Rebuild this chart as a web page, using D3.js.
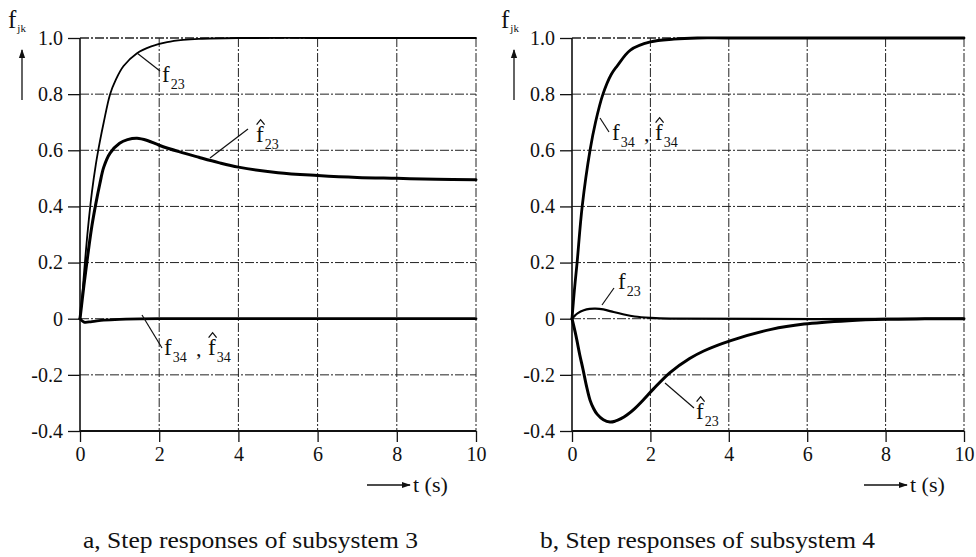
<!DOCTYPE html>
<html>
<head>
<meta charset="utf-8">
<script src="https://cdn.jsdelivr.net/npm/d3@7"></script>
<style>
  html, body { margin: 0; padding: 0; background: #fff; }
</style>
</head>
<body>
<svg id="chart" width="976" height="557"></svg>
<script>
// Axis ticks shared by both panels
const xTicks = [0, 2, 4, 6, 8, 10];
const xTickLabels = ["0", "2", "4", "6", "8", "10"];
const yTicks = [-0.4, -0.2, 0, 0.2, 0.4, 0.6, 0.8, 1.0];
const yTickLabels = ["-0.4", "-0.2", "0", "0.2", "0.4", "0.6", "0.8", "1.0"];

// Panel a: subsystem 3
const a_f23_t = [0, 0.05, 0.1, 0.2, 0.3, 0.4, 0.5, 0.6, 0.76, 0.9, 1.1, 1.44, 1.8, 2.2, 2.6, 3, 4, 6, 8, 10];
const a_f23_v = [0, 0.07, 0.16, 0.32, 0.45, 0.55, 0.63, 0.70, 0.80, 0.85, 0.90, 0.946, 0.97, 0.985, 0.993, 0.997, 1.0, 1.0, 1.0, 1.0];
const a_f23h_t = [0, 0.1, 0.2, 0.3, 0.4, 0.5, 0.6, 0.76, 1.0, 1.2, 1.44, 1.7, 2, 2.5, 3, 3.5, 4, 5, 6, 7, 8, 9, 10];
const a_f23h_v = [0, 0.12, 0.23, 0.33, 0.41, 0.48, 0.54, 0.59, 0.625, 0.638, 0.643, 0.635, 0.618, 0.595, 0.575, 0.556, 0.54, 0.52, 0.51, 0.503, 0.5, 0.497, 0.495];
const a_f34_t = [0, 0.1, 0.3, 0.6, 1, 2, 10];
const a_f34_v = [0, -0.012, -0.01, -0.005, -0.002, 0, 0];

// Panel b: subsystem 4
const b_f34_t = [0, 0.06, 0.13, 0.26, 0.46, 0.6, 0.79, 1.0, 1.15, 1.49, 2, 2.6, 3.2, 4, 10];
const b_f34_v = [0, 0.1, 0.2, 0.4, 0.6, 0.7, 0.8, 0.87, 0.9, 0.957, 0.986, 0.996, 1.0, 1.0, 1.0];
const b_f23_t = [0, 0.08, 0.15, 0.3, 0.45, 0.6, 0.8, 1.0, 1.3, 1.6, 2, 2.5, 10];
const b_f23_v = [0, 0.012, 0.02, 0.03, 0.035, 0.036, 0.033, 0.026, 0.016, 0.008, 0.003, 0, 0];
const b_f23h_t = [0, 0.1, 0.2, 0.28, 0.37, 0.46, 0.55, 0.64, 0.8, 0.97, 1.1, 1.25, 1.4, 1.6, 1.8, 2.08, 2.5, 3, 3.36, 4.05, 5.08, 5.92, 7.05, 8, 9, 10];
const b_f23h_v = [0, -0.06, -0.13, -0.18, -0.24, -0.29, -0.32, -0.34, -0.36, -0.368, -0.365, -0.356, -0.343, -0.32, -0.292, -0.25, -0.192, -0.142, -0.115, -0.078, -0.038, -0.019, -0.007, -0.002, -0.0005, 0];

const captions = ["a, Step responses of subsystem 3", "b, Step responses of subsystem 4"];

const SERIF = '"Liberation Serif", "Times New Roman", Times, Tinos, "Noto Serif", "DejaVu Serif", serif';

const svg = d3.select("#chart");

const defs = svg.append("defs");
defs.append("marker").attr("id", "arrow")
  .attr("viewBox", "0 0 10 10").attr("refX", 9).attr("refY", 5)
  .attr("markerWidth", 7).attr("markerHeight", 7).attr("orient", "auto")
  .append("path").attr("d", "M0,1.5 L10,5 L0,8.5 Z").attr("fill", "#111");

const zip = (t, v) => t.map((d, i) => [d, v[i]]);

function txt(g, x0, y0, fs, s) {
  return g.append("text").attr("x", x0).attr("y", y0).attr("font-size", fs)
    .attr("font-family", SERIF).attr("fill", "#111").text(s);
}

function panel(cfg) {
  const x = d3.scaleLinear().domain([0, 10]).range([cfg.x0, cfg.x1]);
  const y = d3.scaleLinear().domain([-0.4, 1.0]).range([431, 38]);
  const g = svg.append("g");

  // dashed grid
  g.selectAll("line.gx").data(xTicks.filter(d => d > 0)).join("line")
    .attr("x1", d => x(d)).attr("x2", d => x(d)).attr("y1", y(1.0)).attr("y2", y(-0.4))
    .attr("stroke", "#222").attr("stroke-width", 1).attr("stroke-dasharray", "9,2,2,2");
  g.selectAll("line.gy").data(yTicks.filter(d => d > -0.4)).join("line")
    .attr("x1", x(0)).attr("x2", x(10)).attr("y1", d => y(d)).attr("y2", d => y(d))
    .attr("stroke", "#222").attr("stroke-width", d => d === 1.0 ? 1.4 : 1).attr("stroke-dasharray", "9,2,2,2");

  // axes
  const ax = g.append("g").attr("transform", `translate(0,${y(-0.4)})`)
    .call(d3.axisBottom(x).tickValues(xTicks).tickFormat((d, i) => xTickLabels[i]).tickSize(11).tickPadding(5));
  const ay = g.append("g").attr("transform", `translate(${x(0)},0)`)
    .call(d3.axisLeft(y).tickValues(yTicks).tickFormat((d, i) => yTickLabels[i]).tickSize(12).tickPadding(5));
  [ax, ay].forEach(a => {
    a.attr("font-family", SERIF).attr("font-size", 20);
    a.select(".domain").remove();
    a.selectAll("line").attr("stroke", "#111").attr("stroke-width", 1.3);
    a.selectAll("text").attr("fill", "#111");
  });
  g.append("line").attr("x1", x(0)).attr("x2", x(0)).attr("y1", y(1.0)).attr("y2", y(-0.4))
    .attr("stroke", "#111").attr("stroke-width", 1.6);
  g.append("line").attr("x1", x(0)).attr("x2", x(10)).attr("y1", y(-0.4)).attr("y2", y(-0.4))
    .attr("stroke", "#111").attr("stroke-width", 1.8);

  // curves
  const line = d3.line().x(d => x(d[0])).y(d => y(d[1])).curve(d3.curveCatmullRom.alpha(0.5));
  cfg.curves.forEach(c => {
    g.append("path").datum(zip(c.t, c.v)).attr("d", line)
      .attr("fill", "none").attr("stroke", "#000").attr("stroke-width", c.w)
      .attr("stroke-linejoin", "round").attr("stroke-linecap", "round");
  });

  // y-axis symbol with upward arrow
  sym(g, cfg.fx, 28, "jk", false, 25, 11, 4);
  g.append("line").attr("x1", cfg.ax).attr("x2", cfg.ax).attr("y1", 100).attr("y2", 50)
    .attr("stroke", "#111").attr("stroke-width", 1.3).attr("marker-end", "url(#arrow)");

  // time axis caption with arrow
  g.append("line").attr("x1", cfg.tx - 46).attr("x2", cfg.tx - 3).attr("y1", 485).attr("y2", 485)
    .attr("stroke", "#111").attr("stroke-width", 1.3).attr("marker-end", "url(#arrow)");
  txt(g, cfg.tx, 492, 22, "t (s)");

  // curve labels and leaders
  cfg.leaders.forEach(l => {
    g.append("line").attr("x1", l[0]).attr("y1", l[1]).attr("x2", l[2]).attr("y2", l[3])
      .attr("stroke", "#111").attr("stroke-width", 1.2);
  });
  cfg.labels.forEach(l => sym(g, l.x, l.y, l.sub, l.hat, 23, 14, 7));
  if (cfg.commas) cfg.commas.forEach(c => txt(g, c[0], c[1], 22, ","));

  txt(svg, cfg.capX, 548, 24, cfg.caption)
    .attr("textLength", 335).attr("lengthAdjust", "spacingAndGlyphs");
}

// letter f with subscript and optional hat
function sym(g, x0, y0, sub, hat, fs, ss, dy) {
  const t = txt(g, x0, y0, fs, null);
  t.append("tspan").text("f");
  t.append("tspan").attr("font-size", ss).attr("dy", dy).attr("dx", 1).text(sub);
  if (hat) {
    const cx = x0 + fs * 0.2, top = y0 - fs * 0.97;
    g.append("path").attr("d", `M${cx - 4},${top + 5} L${cx},${top} L${cx + 4},${top + 5}`)
      .attr("fill", "none").attr("stroke", "#111").attr("stroke-width", 1.3);
  }
}

panel({
  x0: 80, x1: 476, fx: 8, ax: 22, tx: 413, capX: 83, caption: captions[0],
  curves: [
    { t: a_f23_t, v: a_f23_v, w: 1.8 },
    { t: a_f23h_t, v: a_f23h_v, w: 3 },
    { t: a_f34_t, v: a_f34_v, w: 2.8 }
  ],
  leaders: [[137, 53, 160, 71], [210, 158, 248, 129], [142, 315, 162, 348]],
  labels: [
    { x: 162, y: 82, sub: "23", hat: false },
    { x: 256, y: 142, sub: "23", hat: true },
    { x: 164, y: 355, sub: "34", hat: false },
    { x: 208, y: 355, sub: "34", hat: true }
  ],
  commas: [[196, 356]]
});

panel({
  x0: 572, x1: 964, fx: 501, ax: 514, tx: 910, capX: 540, caption: captions[1],
  curves: [
    { t: b_f34_t, v: b_f34_v, w: 2.8 },
    { t: b_f23_t, v: b_f23_v, w: 2.2 },
    { t: b_f23h_t, v: b_f23h_v, w: 3 }
  ],
  leaders: [[600, 118, 609, 132], [602, 305, 614, 288], [665, 383, 694, 408]],
  labels: [
    { x: 612, y: 140, sub: "34", hat: false },
    { x: 655, y: 140, sub: "34", hat: true },
    { x: 618, y: 289, sub: "23", hat: false },
    { x: 696, y: 419, sub: "23", hat: true }
  ],
  commas: [[644, 141]]
});
</script>
</body>
</html>
